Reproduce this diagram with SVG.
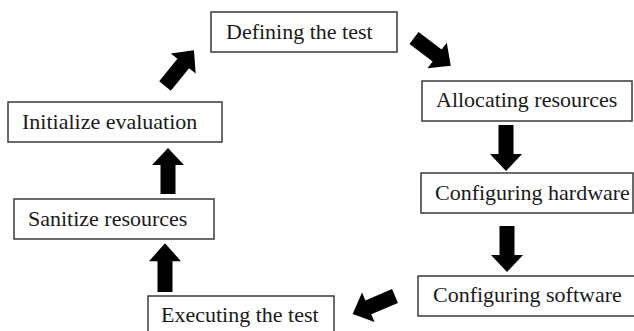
<svg xmlns="http://www.w3.org/2000/svg" xmlns:xlink="http://www.w3.org/1999/xlink" width="634" height="331" viewBox="0 0 634 331">
  <style>
    .box { fill: #ffffff; stroke: #3a3a3a; stroke-width: 1.5; }
    .label { font-family: "Liberation Serif", "Times New Roman", serif; font-size: 22px; fill: #1a1a1a; }
    .arrow { fill: #000000; }
  </style>
  <defs>
    <!-- block arrow pointing along +x, tail at origin -->
    <path id="blockArrow" class="arrow" d="M0,-7.5 H29 V-16 L46,0 L29,16 V7.5 H0 Z"/>
  </defs>
  <rect width="634" height="331" fill="#ffffff"/>

  <g id="node-define">
    <rect class="box" x="211" y="12" width="186" height="40"/>
    <text class="label" x="226" y="39">Defining the test</text>
  </g>
  <g id="node-allocate">
    <rect class="box" x="422" y="81" width="210" height="40"/>
    <text class="label" x="436" y="107">Allocating resources</text>
  </g>
  <g id="node-hardware">
    <rect class="box" x="421" y="173" width="212" height="40"/>
    <text class="label" x="435" y="200">Configuring hardware</text>
  </g>
  <g id="node-software">
    <rect class="box" x="418" y="276" width="220" height="40"/>
    <text class="label" x="433" y="302">Configuring software</text>
  </g>
  <g id="node-execute">
    <rect class="box" x="148" y="296" width="186" height="40"/>
    <text class="label" x="161" y="322">Executing the test</text>
  </g>
  <g id="node-sanitize">
    <rect class="box" x="14" y="199" width="200" height="40"/>
    <text class="label" x="28" y="226">Sanitize resources</text>
  </g>
  <g id="node-initialize">
    <rect class="box" x="8" y="102" width="214" height="40"/>
    <text class="label" x="22" y="129">Initialize evaluation</text>
  </g>

  <g id="connectors">
    <use xlink:href="#blockArrow" transform="translate(414,38) rotate(37)"/>
    <use xlink:href="#blockArrow" transform="translate(506,125) rotate(90)"/>
    <use xlink:href="#blockArrow" transform="translate(507,226) rotate(90)"/>
    <use xlink:href="#blockArrow" transform="translate(395,296) rotate(157)"/>
    <use xlink:href="#blockArrow" transform="translate(165,292) rotate(-90) scale(1.06,1)"/>
    <use xlink:href="#blockArrow" transform="translate(168,194) rotate(-90)"/>
    <use xlink:href="#blockArrow" transform="translate(165,86) rotate(-51)"/>
  </g>
</svg>
